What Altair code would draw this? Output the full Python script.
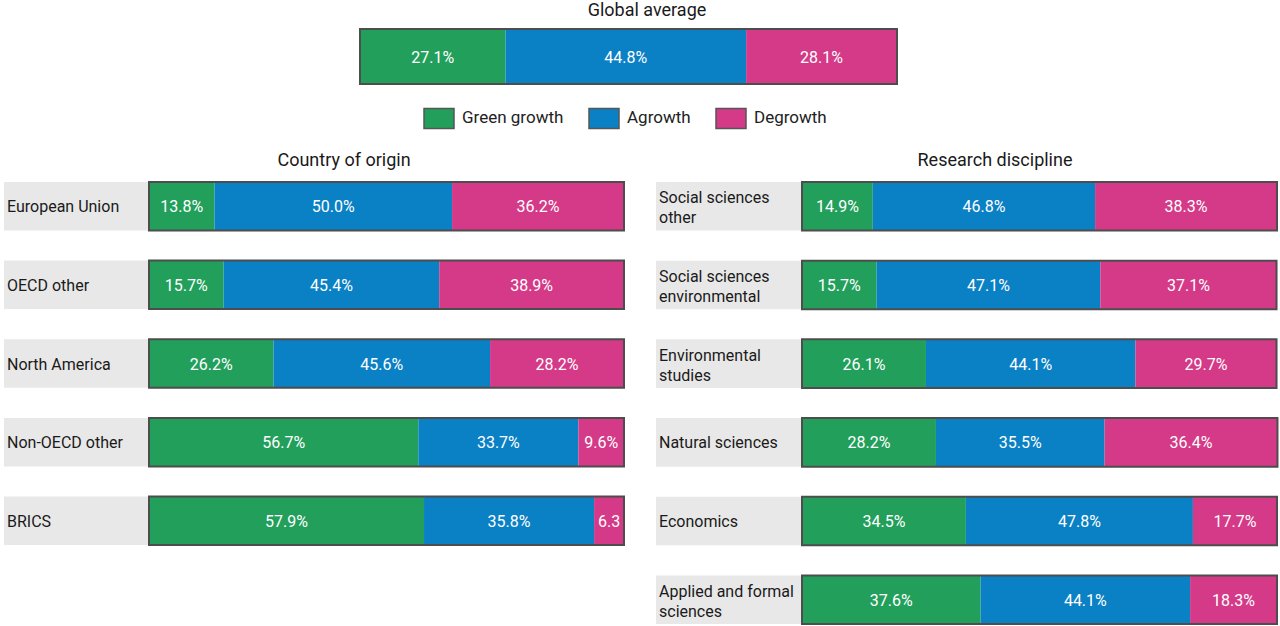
import altair as alt
import pandas as pd

categories = ["Green growth", "Agrowth", "Degrowth"]
colors = ["#22a05b", "#0a80c5", "#d43a87"]

global_rows = ["Global average"]
global_green = [27.1]
global_agrowth = [44.8]
global_degrowth = [28.1]

country_rows = ["European Union", "OECD other", "North America", "Non-OECD other", "BRICS"]
country_green = [13.8, 15.7, 26.2, 56.7, 57.9]
country_agrowth = [50.0, 45.4, 45.6, 33.7, 35.8]
country_degrowth = [36.2, 38.9, 28.2, 9.6, 6.3]
country_degrowth_labels = ["36.2%", "38.9%", "28.2%", "9.6%", "6.3"]

discipline_rows = ["Social sciences\nother", "Social sciences\nenvironmental", "Environmental\nstudies",
                   "Natural sciences", "Economics", "Applied and formal\nsciences"]
discipline_green = [14.9, 15.7, 26.1, 28.2, 34.5, 37.6]
discipline_agrowth = [46.8, 47.1, 44.1, 35.5, 47.8, 44.1]
discipline_degrowth = [38.3, 37.1, 29.7, 36.4, 17.7, 18.3]

titles = ["Global average", "Country of origin", "Research discipline"]

FONT = "Roboto"


def pct(vals):
    return [f"{v:.1f}%" for v in vals]


def build(rows, series, labels):
    recs = []
    for i, r in enumerate(rows):
        start = 0.0
        for k, (cat, vals, labs) in enumerate(zip(categories, series, labels)):
            v = vals[i]
            recs.append(dict(row=r, category=cat, order=k, value=v, start=start,
                             end=start + v, mid=start + v / 2, label=labs[i]))
            start += v
    return pd.DataFrame(recs)


def frame_df(df):
    fr = df.groupby("row", sort=False).agg(start=("start", "min"), end=("end", "max")).reset_index()
    fr["lines"] = fr["row"].str.count("\n") + 1
    return fr


color_scale = alt.Scale(domain=categories, range=colors)
legend = alt.Legend(
    orient="none", legendX=423, legendY=102, direction="horizontal", title=None,
    symbolType="M-1,-0.667H1V0.667H-1Z", symbolSize=900, symbolStrokeColor="#555555",
    symbolStrokeWidth=1.5, symbolOpacity=1, labelFont=FONT, labelFontSize=17, labelColor="#222222",
    labelOffset=7, columnPadding=22, labelLimit=200,
)


def panel(df, rows, xr, yr, bg=None, pin=0.383, pout=0.19, show_legend=False):
    xs = alt.Scale(domain=[0, 100], range=xr, nice=False, zero=False)
    ys = alt.Scale(domain=rows, range=yr, paddingInner=pin, paddingOuter=pout)
    layers = []
    fr = frame_df(df)
    if bg is not None:
        layers.append(
            alt.Chart(fr).mark_rect(color="#e8e8e8").encode(
                y=alt.Y("row:N", scale=ys, axis=None), x=alt.value(bg[0]), x2=alt.value(bg[1]))
        )
        for n, dy in [(1, 1), (2, -8)]:
            layers.append(
                alt.Chart(fr).transform_filter(alt.datum.lines == n).mark_text(
                    align="left", baseline="middle", font=FONT, fontSize=16,
                    color="#1a1a1a", lineBreak="\n", lineHeight=20, dy=dy).encode(
                    y=alt.Y("row:N", scale=ys, axis=None), x=alt.value(bg[0] + 3), text="row:N")
            )
    layers.append(
        alt.Chart(df).mark_rect().encode(
            y=alt.Y("row:N", scale=ys, axis=None),
            x=alt.X("start:Q", scale=xs, axis=None), x2="end:Q",
            color=alt.Color("category:N", scale=color_scale, sort=categories,
                            legend=legend if show_legend else None),
        )
    )
    layers.append(
        alt.Chart(fr).mark_rect(fillOpacity=0, stroke="#4d4d4d", strokeWidth=2).encode(
            y=alt.Y("row:N", scale=ys, axis=None),
            x=alt.X("start:Q", scale=xs, axis=None), x2="end:Q")
    )
    layers.append(
        alt.Chart(df).mark_text(baseline="middle", font=FONT, fontSize=16, color="white", dy=1).encode(
            y=alt.Y("row:N", scale=ys, axis=None),
            x=alt.X("mid:Q", scale=xs, axis=None), text="label:N")
    )
    return alt.layer(*layers)


gdf = build(global_rows, [global_green, global_agrowth, global_degrowth],
            [pct(global_green), pct(global_agrowth), pct(global_degrowth)])
cdf = build(country_rows, [country_green, country_agrowth, country_degrowth],
            [pct(country_green), pct(country_agrowth), country_degrowth_labels])
ddf = build(discipline_rows, [discipline_green, discipline_agrowth, discipline_degrowth],
            [pct(discipline_green), pct(discipline_agrowth), pct(discipline_degrowth)])

g_panel = panel(gdf, global_rows, [360, 897], [29, 84], pin=0, pout=0, show_legend=True)
c_panel = panel(cdf, country_rows, [149, 624], [167, 560], bg=[4, 149])
d_panel = panel(ddf, discipline_rows, [802, 1277], [167, 639], bg=[656, 802])


def title_text(t, x, y):
    return alt.Chart(pd.DataFrame({"t": [t]})).mark_text(
        font=FONT, fontSize=18, color="#1a1a1a", baseline="middle", align="center").encode(
        text="t:N", x=alt.value(x), y=alt.value(y))


chart = alt.layer(
    g_panel, c_panel, d_panel,
    title_text(titles[0], 647, 11),
    title_text(titles[1], 344, 161),
    title_text(titles[2], 995, 161),
).resolve_scale(x="independent", y="independent").properties(
    width=1280, height=626, padding=0, autosize=alt.AutoSizeParams(type="none"),
    background="white",
).configure_view(strokeWidth=0)

chart.save("out.html", embed_options={"renderer": "svg", "actions": False})
